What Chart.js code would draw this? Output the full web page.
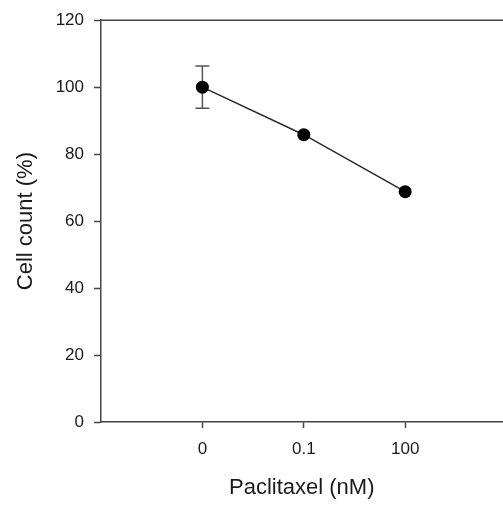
<!DOCTYPE html>
<html>
<head>
<meta charset="utf-8">
<script src="https://cdn.jsdelivr.net/npm/chart.js@4/dist/chart.umd.min.js"></script>
<style>
    html, body { margin: 0; padding: 0; background: #fff; overflow: hidden; }
    #wrap { width: 509px; height: 507px; }
</style>
</head>
<body>
<div id="wrap"><canvas id="cellChart"></canvas></div>
<script>
// Data
const doseLabels = ['0', '0.1', '100'];
const cellCount = [100, 85.8, 68.8];
const cellCountErr = [6.3, null, null];
const yTicks = [0, 20, 40, 60, 80, 100, 120];

const axisColor = '#444';
const textColor = '#1a1a1a';

// Error bars drawn under the points
const errorBars = {
    id: 'errorBars',
    beforeDatasetsDraw(chart) {
        const ctx = chart.ctx;
        const xs = chart.scales.x;
        const ys = chart.scales.y;
        ctx.save();
        ctx.strokeStyle = '#555';
        ctx.lineWidth = 1.5;
        cellCount.forEach((v, i) => {
            const err = cellCountErr[i];
            if (!err) return;
            const px = xs.getPixelForValue(i);
            const top = ys.getPixelForValue(v + err);
            const bot = ys.getPixelForValue(v - err);
            ctx.beginPath();
            ctx.moveTo(px, top);
            ctx.lineTo(px, bot);
            ctx.moveTo(px - 7, top);
            ctx.lineTo(px + 7, top);
            ctx.moveTo(px - 7, bot);
            ctx.lineTo(px + 7, bot);
            ctx.stroke();
        });
        ctx.restore();
    }
};

// Top frame line
const topFrame = {
    id: 'topFrame',
    afterDraw(chart) {
        const { ctx, chartArea } = chart;
        ctx.save();
        ctx.strokeStyle = axisColor;
        ctx.lineWidth = 1.5;
        ctx.beginPath();
        ctx.moveTo(chartArea.left, chartArea.top);
        ctx.lineTo(chartArea.right + 10, chartArea.top);
        ctx.stroke();
        ctx.restore();
    }
};

const ctx = document.getElementById('cellChart').getContext('2d');
new Chart(ctx, {
    type: 'line',
    data: {
        datasets: [{
            data: cellCount.map((v, i) => ({ x: i, y: v })),
            borderColor: '#2a2a2a',
            borderWidth: 1.5,
            pointRadius: 6.5,
            pointBackgroundColor: '#000',
            pointBorderColor: '#000',
            pointBorderWidth: 0,
            tension: 0
        }]
    },
    options: {
        responsive: true,
        maintainAspectRatio: false,
        animation: false,
        events: [],
        layout: { padding: { top: 16, right: 0, left: 0, bottom: 0 } },
        plugins: {
            legend: { display: false },
            tooltip: { enabled: false }
        },
        scales: {
            x: {
                type: 'linear',
                min: -1,
                max: 2.96,
                afterBuildTicks: scale => {
                    scale.ticks = doseLabels.map((l, i) => ({ value: i }));
                },
                afterFit: scale => { scale.height = 85; },
                grid: { drawOnChartArea: false, tickLength: 6, tickColor: axisColor, tickWidth: 1.5 },
                border: { color: axisColor, width: 1.5 },
                ticks: {
                    padding: 11,
                    color: textColor,
                    font: { family: "'Liberation Sans', Arial", size: 17 },
                    callback: v => doseLabels[v]
                },
                title: {
                    display: true,
                    text: 'Paclitaxel (nM)',
                    color: textColor,
                    font: { family: "'Liberation Sans', Arial", size: 22 },
                    padding: { top: 0, bottom: 6 }
                }
            },
            y: {
                min: 0,
                max: 120,
                afterBuildTicks: scale => {
                    scale.ticks = yTicks.map(v => ({ value: v }));
                },
                afterFit: scale => { scale.width = 101; },
                grid: { drawOnChartArea: false, tickLength: 7, tickColor: axisColor, tickWidth: 1.5 },
                border: { color: axisColor, width: 1.5 },
                ticks: {
                    padding: 10,
                    color: textColor,
                    font: { family: "'Liberation Sans', Arial", size: 17 }
                },
                title: {
                    display: true,
                    text: 'Cell count (%)',
                    color: textColor,
                    font: { family: "'Liberation Sans', Arial", size: 22 },
                    padding: { top: 13, bottom: 0 }
                }
            }
        }
    },
    plugins: [errorBars, topFrame]
});
</script>
</body>
</html>
